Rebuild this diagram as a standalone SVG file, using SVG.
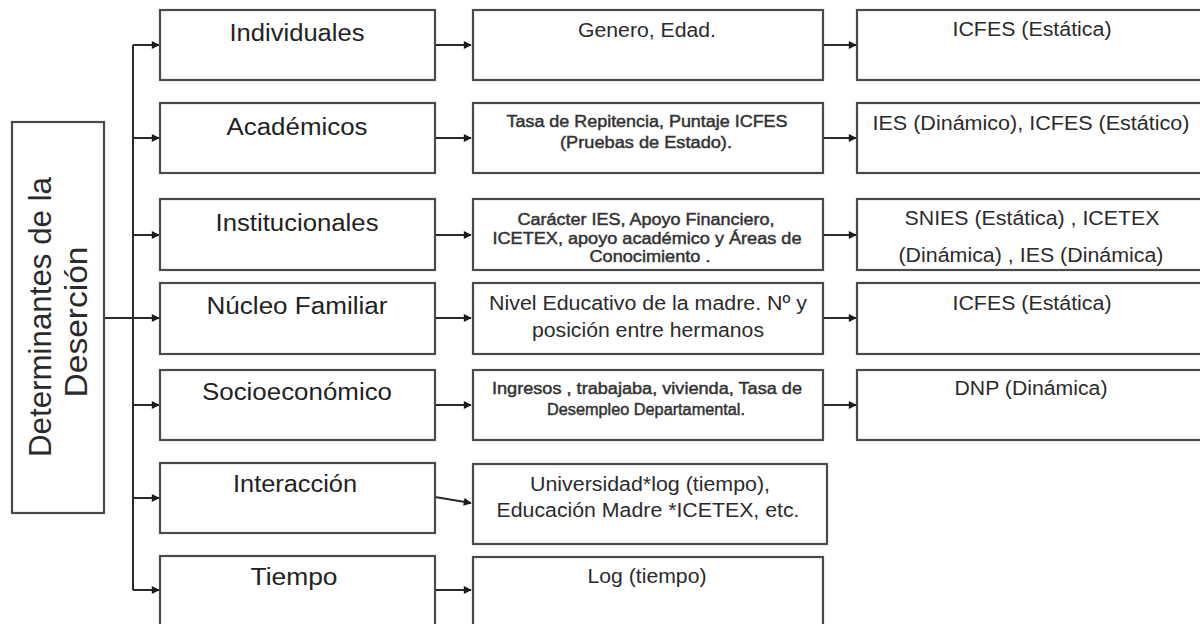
<svg xmlns="http://www.w3.org/2000/svg" width="1200" height="624" viewBox="0 0 1200 624">
<style>
.box{fill:#fff;stroke:#4a4a4a;stroke-width:2.2}
.t{font-family:"Liberation Sans",Arial,sans-serif;fill:#2b2b2b;text-anchor:middle}
.h{font-size:23px;fill:#222}
.m{font-size:20px}
.s{font-size:16px;fill:#333;stroke:#333;stroke-width:0.45}
.c{fill:none;stroke:#2a2a2a;stroke-width:2}
</style>
<defs>
<marker id="ah" viewBox="0 0 10 10" refX="9" refY="5" markerWidth="9" markerHeight="8" markerUnits="userSpaceOnUse" orient="auto">
<path d="M0,0 L10,5 L0,10 z" fill="#1a1a1a"/>
</marker>
</defs>
<rect width="1200" height="624" fill="#fff"/>

<g id="connectors">
<path class="c" d="M133,45 V590"/>
<path class="c" d="M104,318 H159" marker-end="url(#ah)"/>
<path class="c" d="M133,45 H159" marker-end="url(#ah)"/>
<path class="c" d="M133,138 H159" marker-end="url(#ah)"/>
<path class="c" d="M133,235 H159" marker-end="url(#ah)"/>
<path class="c" d="M133,405 H159" marker-end="url(#ah)"/>
<path class="c" d="M133,498 H159" marker-end="url(#ah)"/>
<path class="c" d="M133,590 H159" marker-end="url(#ah)"/>
<path class="c" d="M435,45 H471" marker-end="url(#ah)"/>
<path class="c" d="M435,138 H471" marker-end="url(#ah)"/>
<path class="c" d="M435,235 H471" marker-end="url(#ah)"/>
<path class="c" d="M435,318 H471" marker-end="url(#ah)"/>
<path class="c" d="M435,405 H471" marker-end="url(#ah)"/>
<path class="c" d="M435,497 L471,503" marker-end="url(#ah)"/>
<path class="c" d="M435,590 H471" marker-end="url(#ah)"/>
<path class="c" d="M823,45 H856" marker-end="url(#ah)"/>
<path class="c" d="M823,138 H856" marker-end="url(#ah)"/>
<path class="c" d="M823,235 H856" marker-end="url(#ah)"/>
<path class="c" d="M823,318 H856" marker-end="url(#ah)"/>
<path class="c" d="M823,405 H856" marker-end="url(#ah)"/>
</g>

<g id="root">
<rect class="box" x="12" y="122" width="92" height="391"/>
<text class="t" font-size="32" transform="translate(51,317) rotate(-90)" textLength="280" lengthAdjust="spacingAndGlyphs">Determinantes de la</text>
<text class="t" font-size="32" transform="translate(87,322) rotate(-90)" textLength="151" lengthAdjust="spacingAndGlyphs">Deserción</text>
</g>

<g id="individuales">
<rect class="box" x="160" y="10" width="275" height="70"/>
<text class="t h" x="297" y="41" textLength="135" lengthAdjust="spacingAndGlyphs">Individuales</text>
</g>
<g id="academicos">
<rect class="box" x="160" y="103" width="275" height="70"/>
<text class="t h" x="297" y="135" textLength="141" lengthAdjust="spacingAndGlyphs">Académicos</text>
</g>
<g id="institucionales">
<rect class="box" x="160" y="199" width="275" height="71"/>
<text class="t h" x="297" y="231" textLength="163" lengthAdjust="spacingAndGlyphs">Institucionales</text>
</g>
<g id="nucleo">
<rect class="box" x="160" y="283" width="275" height="71"/>
<text class="t h" x="297" y="314" textLength="181" lengthAdjust="spacingAndGlyphs">Núcleo  Familiar</text>
</g>
<g id="socio">
<rect class="box" x="160" y="370" width="275" height="70"/>
<text class="t h" x="297" y="400" textLength="190" lengthAdjust="spacingAndGlyphs">Socioeconómico</text>
</g>
<g id="interaccion">
<rect class="box" x="160" y="463" width="275" height="70"/>
<text class="t h" x="295" y="492" textLength="124" lengthAdjust="spacingAndGlyphs">Interacción</text>
</g>
<g id="tiempo">
<rect class="box" x="160" y="556" width="275" height="80"/>
<text class="t h" x="294" y="585" textLength="87" lengthAdjust="spacingAndGlyphs">Tiempo</text>
</g>

<g id="genero">
<rect class="box" x="473" y="10" width="350" height="70"/>
<text class="t m" x="647" y="37" textLength="138" lengthAdjust="spacingAndGlyphs">Genero, Edad.</text>
</g>
<g id="tasa">
<rect class="box" x="473" y="103" width="350" height="70"/>
<text class="t s" x="647" y="127" textLength="281" lengthAdjust="spacingAndGlyphs">Tasa de Repitencia, Puntaje ICFES</text>
<text class="t s" x="646" y="148" textLength="172" lengthAdjust="spacingAndGlyphs">(Pruebas de Estado).</text>
</g>
<g id="caracter">
<rect class="box" x="473" y="199" width="350" height="71"/>
<text class="t s" x="646" y="225" textLength="257" lengthAdjust="spacingAndGlyphs">Carácter IES, Apoyo Financiero,</text>
<text class="t s" x="647" y="244" textLength="309" lengthAdjust="spacingAndGlyphs">ICETEX,  apoyo académico y Áreas de</text>
<text class="t s" x="650" y="262" textLength="121" lengthAdjust="spacingAndGlyphs">Conocimiento .</text>
</g>
<g id="nivel">
<rect class="box" x="473" y="283" width="350" height="71"/>
<text class="t m" x="648" y="310" textLength="318" lengthAdjust="spacingAndGlyphs">Nivel Educativo de la madre. Nº y</text>
<text class="t m" x="648" y="337" textLength="232" lengthAdjust="spacingAndGlyphs">posición entre hermanos</text>
</g>
<g id="ingresos">
<rect class="box" x="473" y="370" width="350" height="70"/>
<text class="t s" x="647" y="394" textLength="310" lengthAdjust="spacingAndGlyphs">Ingresos , trabajaba, vivienda, Tasa de</text>
<text class="t s" x="646" y="415" textLength="198" lengthAdjust="spacingAndGlyphs">Desempleo Departamental.</text>
</g>
<g id="universidad">
<rect class="box" x="473" y="464" width="354" height="80"/>
<text class="t m" x="650" y="491" textLength="240" lengthAdjust="spacingAndGlyphs">Universidad*log (tiempo),</text>
<text class="t m" x="648" y="517" textLength="303" lengthAdjust="spacingAndGlyphs">Educación Madre *ICETEX, etc.</text>
</g>
<g id="log">
<rect class="box" x="473" y="557" width="350" height="80"/>
<text class="t m" x="647" y="583" textLength="119" lengthAdjust="spacingAndGlyphs">Log (tiempo)</text>
</g>

<g id="icfes1">
<rect class="box" x="857" y="10" width="351" height="70"/>
<text class="t m" x="1032" y="36" textLength="159" lengthAdjust="spacingAndGlyphs">ICFES (Estática)</text>
</g>
<g id="ies">
<rect class="box" x="857" y="103" width="351" height="70"/>
<text class="t m" x="1031" y="130" textLength="317" lengthAdjust="spacingAndGlyphs">IES (Dinámico), ICFES (Estático)</text>
</g>
<g id="snies">
<rect class="box" x="857" y="199" width="351" height="71"/>
<text class="t m" x="1032" y="225" textLength="255" lengthAdjust="spacingAndGlyphs">SNIES (Estática) , ICETEX</text>
<text class="t m" x="1031" y="262" textLength="265" lengthAdjust="spacingAndGlyphs">(Dinámica) , IES (Dinámica)</text>
</g>
<g id="icfes2">
<rect class="box" x="857" y="283" width="351" height="71"/>
<text class="t m" x="1032" y="310" textLength="159" lengthAdjust="spacingAndGlyphs">ICFES (Estática)</text>
</g>
<g id="dnp">
<rect class="box" x="857" y="370" width="351" height="70"/>
<text class="t m" x="1031" y="395" textLength="153" lengthAdjust="spacingAndGlyphs">DNP (Dinámica)</text>
</g>
</svg>
